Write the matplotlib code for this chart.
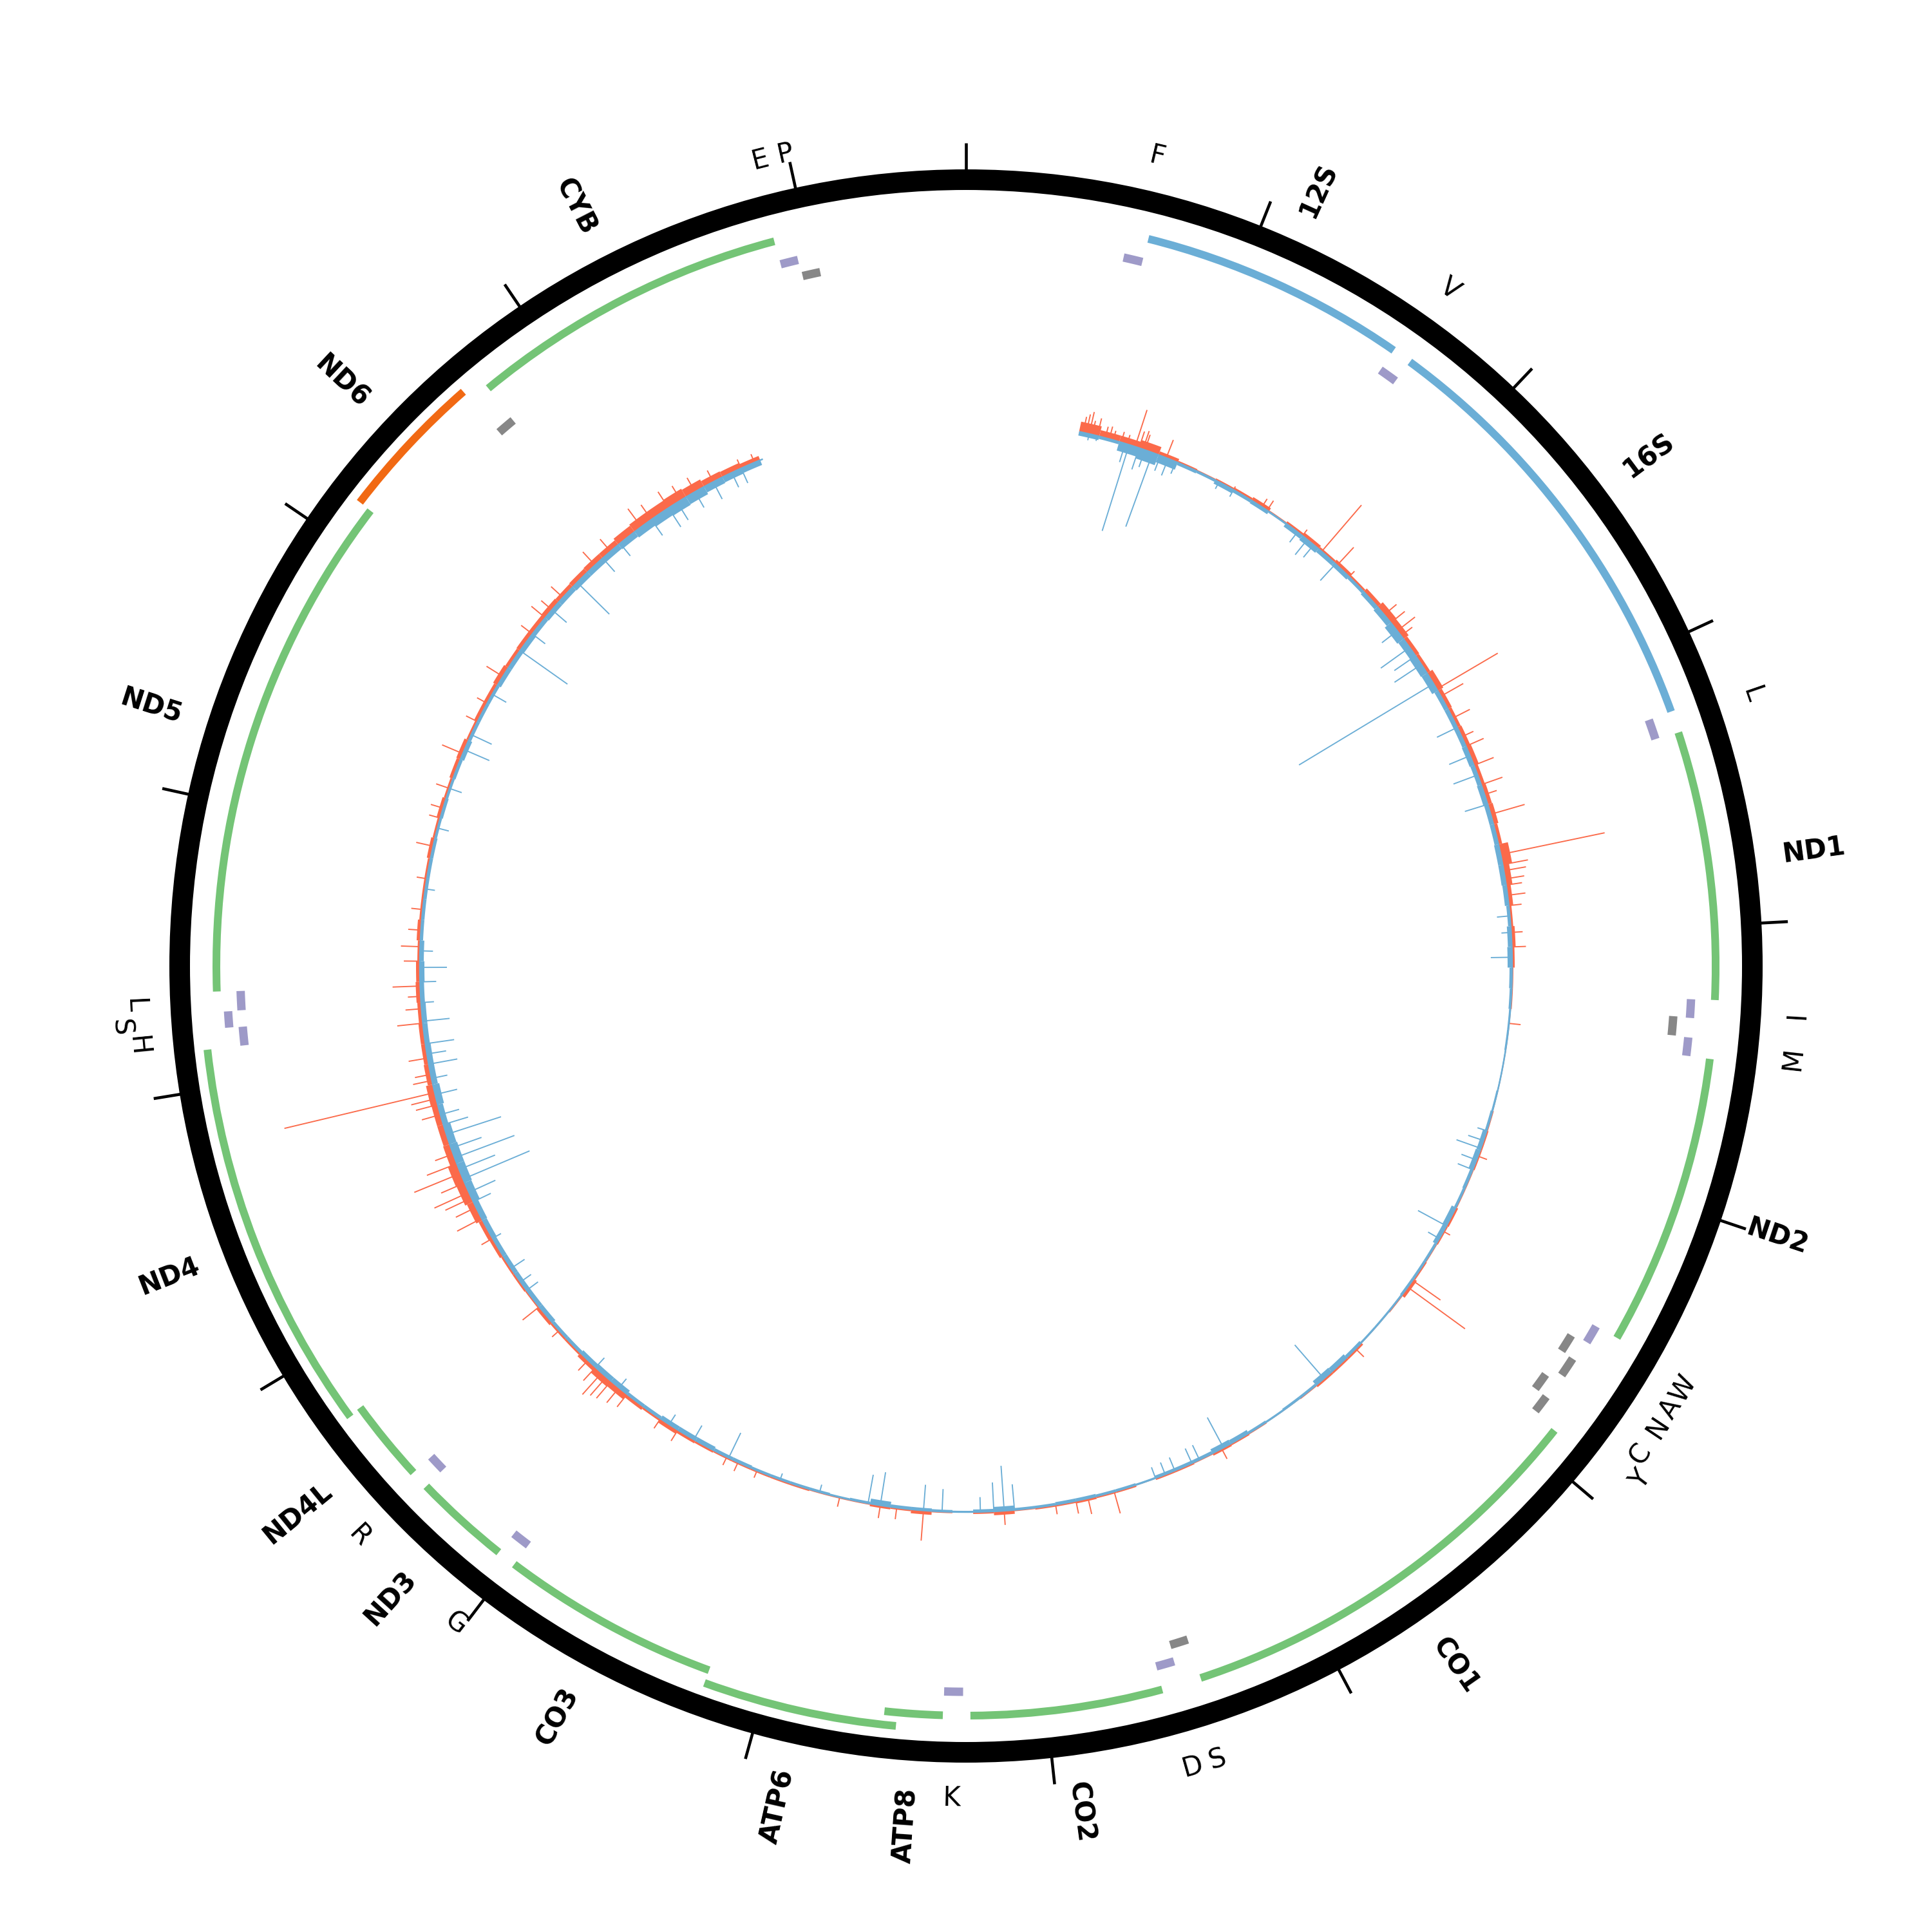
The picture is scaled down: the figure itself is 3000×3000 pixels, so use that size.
import numpy as np
import matplotlib.pyplot as plt

GENOME = 16569

# protein coding genes (heavy strand) + ND6 (light strand)
pc_names = ['ND1', 'ND2', 'CO1', 'CO2', 'ATP8', 'ATP6', 'CO3', 'ND3', 'ND4L', 'ND4', 'ND5', 'ND6', 'CYB']
pc_start = [3307, 4470, 5904, 7586, 8366, 8527, 9207, 10059, 10470, 10760, 12337, 14149, 14747]
pc_end = [4262, 5511, 7445, 8269, 8572, 9207, 9990, 10404, 10766, 12137, 14148, 14673, 15887]
pc_strand = ['+', '+', '+', '+', '+', '+', '+', '+', '+', '+', '+', '-', '+']

# rRNAs
rrna_names = ['12S', '16S']
rrna_start = [648, 1671]
rrna_end = [1601, 3229]

# tRNAs, heavy strand
trna_h_names = ['F', 'V', 'L1', 'I', 'M', 'W', 'D', 'K', 'G', 'R', 'H', 'S2', 'L2', 'T']
trna_h_start = [577, 1602, 3230, 4263, 4402, 5512, 7518, 8295, 9991, 10405, 12138, 12207, 12266, 15888]
trna_h_end = [647, 1670, 3304, 4331, 4469, 5579, 7585, 8364, 10058, 10469, 12206, 12265, 12336, 15953]

# tRNAs, light strand
trna_l_names = ['Q', 'A', 'N', 'C', 'Y', 'S1', 'E', 'P']
trna_l_start = [4329, 5587, 5657, 5761, 5826, 7446, 14674, 15956]
trna_l_end = [4400, 5655, 5729, 5826, 5891, 7514, 14742, 16023]

# tRNA labels as printed on the chart
trna_label_text = ['F', 'V', 'L', 'I', 'M', 'W', 'A', 'N', 'C', 'Y', 'S', 'D', 'K',
                   'G', 'R', 'H', 'S', 'L', 'E', 'P']
trna_label_pos = [612, 1636, 3267, 4297, 4436, 5546, 5621, 5693, 5794, 5859, 7475, 7557, 8330,
                  10025, 10437, 12172, 12236, 12301, 15911, 15992]

# coverage track: 100 bp bins (centres) with typical forward / reverse signal
cov_pos = list(range(600, 15600, 100))
cov_fwd = [16, 10, 10, 13, 6, 3, 2, 3, 4, 6, 2, 4, 6, 4, 6, 4, 7, 11, 10, 7,
           6, 10, 7, 6, 7, 8, 6, 7, 8, 6, 15, 10, 7, 4, 6, 4, 2, 2, 1, 1,
           1, 1, 1, 2, 3, 3, 2, 2, 4, 3, 2, 3, 6, 2, 1, 1, 4, 4, 4, 2,
           1, 1, 2, 3, 4, 2, 3, 3, 1, 3, 3, 4, 3, 3, 2, 6, 3, 1, 2, 6,
           3, 4, 2, 2, 2, 3, 3, 3, 3, 3, 4, 5, 7, 4, 6, 10, 11, 7, 4, 4,
           6, 3, 4, 4, 6, 7, 11, 14, 15, 11, 10, 10, 11, 8, 7, 7, 6, 7, 6, 4,
           6, 4, 4, 4, 6, 4, 6, 4, 6, 7, 4, 6, 6, 8, 6, 7, 7, 8, 7, 8,
           9, 9, 12, 14, 14, 15, 13, 10, 9, 7]
cov_rev = [6, 4, 14, 17, 12, 4, 3, 6, 4, 5, 2, 6, 8, 6, 6, 4, 6, 8, 12, 10,
           11, 10, 6, 6, 6, 7, 6, 7, 6, 6, 7, 7, 6, 4, 6, 7, 4, 3, 2, 2,
           1, 1, 2, 3, 6, 7, 4, 3, 7, 6, 3, 3, 3, 2, 2, 2, 4, 7, 8, 3,
           3, 2, 3, 6, 7, 4, 4, 4, 2, 3, 3, 4, 4, 3, 3, 7, 4, 2, 3, 4,
           4, 8, 3, 2, 3, 3, 3, 3, 4, 4, 6, 6, 6, 4, 4, 7, 7, 6, 4, 4,
           6, 6, 6, 6, 6, 7, 8, 11, 12, 12, 11, 8, 10, 8, 8, 7, 7, 6, 7, 6,
           4, 4, 4, 4, 4, 3, 4, 3, 4, 6, 4, 4, 4, 6, 6, 7, 6, 7, 7, 8,
           8, 8, 9, 11, 13, 14, 13, 10, 9, 8]

# isolated peaks (forward strand, outwards)
peak_fwd_pos = [570, 585, 600, 615, 640, 680, 700, 720, 760, 790, 830, 850, 870, 880, 930, 990,
                1350, 1510, 1540, 1750, 1870, 1970, 2050, 2300, 2350, 2400, 2430, 2740, 2780,
                2900, 3000, 3050, 3150, 3250, 3300, 3400, 3600, 3650, 3680, 3720, 3750, 3800,
                3850, 3980, 4050, 4420, 5080, 5480, 5760, 5800, 6190, 7000, 7560, 7690, 7750,
                7850, 8100, 8490, 8620, 8700, 8900, 9320, 9420, 9480, 9750, 9850, 10050, 10100,
                10150, 10180, 10210, 10250, 10300, 10500, 10650, 11050, 11160, 11220, 11270,
                11300, 11350, 11400, 11450, 11500, 11700, 11750, 11780, 11810, 11870, 11900,
                11980, 12150, 12220, 12280, 12330, 12450, 12520, 12600, 12700, 12850, 13010,
                13150, 13200, 13300, 13480, 13650, 13750, 13900, 14150, 14250, 14300, 14380,
                14600, 14700, 14890, 14950, 15050, 15120, 15200, 15300, 15450, 15520]
peak_fwd_val = [25, 30, 35, 22, 28, 18, 20, 15, 17, 15, 60, 27, 30, 25, 12, 30,
                6, 15, 18, 12, 95, 38, 12, 25, 28, 35, 22, 110, 40,
                30, 20, 30, 33, 35, 20, 55, 165, 40, 35, 30, 25, 28,
                20, 18, 22, 18, 15, 12, 53, 110, 18, 18, 35, 25, 20,
                15, 22, 47, 18, 20, 15, 12, 15, 14, 20, 18, 25, 30,
                35, 38, 45, 28, 22, 15, 33, 20, 43, 35, 45,
                59, 40, 78, 50, 30, 30, 35, 40, 240, 30, 25,
                30, 40, 25, 20, 43, 25, 30, 20, 18, 16, 27,
                18, 20, 22, 35, 20, 18, 30, 22, 28, 22, 25,
                28, 25, 35, 28, 30, 26, 25, 20, 15, 14]
# isolated peaks (reverse strand, inwards)
peak_rev_pos = [600, 640, 780, 800, 850, 880, 920, 960, 1000, 1040, 1270, 1350, 1720, 1780, 1820,
                1960, 2400, 2500, 2550, 2600, 2710, 2950, 3100, 3200, 3350, 3900, 3980, 4100,
                4950, 5000, 5040, 5100, 5150, 5450, 5520, 6400, 6990, 7120, 7160, 7250, 7300,
                7350, 8050, 8100, 8150, 8215, 8400, 8490, 8700, 8760, 9000, 9200, 9470, 9660,
                9800, 10100, 10250, 10750, 10800, 10880, 11050, 11250, 11300, 11370, 11420,
                11480, 11530, 11600, 11650, 11700, 11800, 11880, 11950, 12000, 12050, 12160,
                12250, 12350, 12420, 12500, 12800, 13100, 13300, 13500, 13580, 13800, 14050,
                14150, 14300, 14480, 14650, 14760, 14950, 15050, 15100, 15200, 15300, 15400,
                15450]
peak_rev_val = [10, 8, 30, 140, 35, 28, 122, 25, 28, 20, 12, 12, 20, 30, 25,
                35, 30, 55, 40, 50, 244, 35, 35, 40, 37, 20, 15, 33,
                15, 25, 40, 25, 25, 50, 20, 69, 53, 25, 25, 22, 20,
                18, 40, 70, 45, 23, 35, 40, 52, 45, 12, 10, 43, 25,
                18, 18, 20, 22, 20, 25, 15, 30, 45, 112, 60,
                99, 50, 89, 40, 30, 35, 25, 45, 30, 45, 42,
                20, 25, 42, 20, 15, 18, 20, 42, 35, 25, 90,
                25, 30, 70, 28, 25, 30, 35, 32, 28, 30, 25,
                25]

GREEN = '#74c476'
ORANGE = '#f16913'
RRNA_BLUE = '#6baed6'
PURPLE = '#9e9ac8'
GREY = '#878787'
COV_RED = '#fb6a4a'
COV_BLUE = '#6baed6'

# radii in pixel-like units (axes radius = 1500)
RING_IN, RING_OUT = 1205, 1237
TICK_OUT = 1278
GENE_R, GENE_W = 1164, 12
TRNA_H_R, TRNA_L_R, TRNA_W = 1127, 1101, 13
LEVEL_STEP = 21
BASE_R = 848
GENE_LABEL_R = 1279
TRNA_LABEL_R = 1292
LABEL_STEP = 24


def ang(bp):
    return np.asarray(bp, dtype=float) / GENOME * 2 * np.pi


def assign_levels(starts, ends, pad=10):
    order = np.argsort(starts)
    last_end = []
    levels = [0] * len(starts)
    for i in order:
        for lv, e in enumerate(last_end):
            if starts[i] > e + pad:
                levels[i] = lv
                last_end[lv] = ends[i]
                break
        else:
            levels[i] = len(last_end)
            last_end.append(ends[i])
    return levels


def draw_blocks(ax, starts, ends, radius, width, colors, levels):
    th0 = ang(starts)
    th1 = ang(ends)
    r = radius + np.array(levels) * LEVEL_STEP
    ax.bar((th0 + th1) / 2, width, width=th1 - th0, bottom=r - width / 2,
           color=colors, linewidth=0, align='center')


fig = plt.figure(figsize=(10, 10), dpi=300)
ax = fig.add_axes([0, 0, 1, 1], projection='polar')
ax.set_theta_zero_location('N')
ax.set_theta_direction(-1)
ax.set_ylim(0, 1500)
ax.axis('off')

# outer ring and ticks
ax.bar(0, RING_OUT - RING_IN, width=2 * np.pi, bottom=RING_IN, color='black', linewidth=0)
tick_bp = np.arange(0, GENOME, 1000)
ax.vlines(ang(tick_bp), RING_OUT - 2, TICK_OUT, color='black', lw=1.1)

# genes
gene_starts = pc_start + rrna_start
gene_ends = pc_end + rrna_end
gene_cols = [GREEN if s == '+' else ORANGE for s in pc_strand] + [RRNA_BLUE] * len(rrna_start)
draw_blocks(ax, gene_starts, gene_ends, GENE_R, GENE_W, gene_cols,
            assign_levels(gene_starts, gene_ends))
draw_blocks(ax, trna_h_start, trna_h_end, TRNA_H_R, TRNA_W, PURPLE,
            assign_levels(trna_h_start, trna_h_end))
draw_blocks(ax, trna_l_start, trna_l_end, TRNA_L_R, TRNA_W, GREY,
            assign_levels(trna_l_start, trna_l_end))

# gene labels, radial
label_names = pc_names + rrna_names
label_mid = [(s + e) / 2 for s, e in zip(gene_starts, gene_ends)]
for name, mid in zip(label_names, label_mid):
    deg = mid / GENOME * 360
    if deg < 180:
        rot, ha = 90 - deg, 'left'
    else:
        rot, ha = 270 - deg, 'right'
    ax.text(ang(mid), GENE_LABEL_R, name, rotation=rot, rotation_mode='anchor',
            ha=ha, va='center', fontsize=10, fontweight='bold', color='black')

# tRNA labels, tangential; crowded neighbours are pushed outwards
lab_levels = assign_levels(trna_label_pos, trna_label_pos, pad=67)
for name, pos, lv in zip(trna_label_text, trna_label_pos, lab_levels):
    deg = pos / GENOME * 360
    rot = -deg
    while rot <= -90:
        rot += 180
    while rot > 90:
        rot -= 180
    ax.text(ang(pos), TRNA_LABEL_R + lv * LABEL_STEP, name, rotation=rot,
            rotation_mode='anchor', ha='center', va='center', fontsize=10, color='black')

# coverage track
cp = ang(cov_pos)
bw = ang(100)
fwd = np.array(cov_fwd, dtype=float)
rev = np.array(cov_rev, dtype=float)
ax.bar(cp, fwd, width=bw, bottom=BASE_R, color=COV_RED, linewidth=0)
ax.bar(cp, rev, width=bw, bottom=BASE_R - rev, color=COV_BLUE, linewidth=0)
ax.vlines(ang(peak_fwd_pos), BASE_R, BASE_R + np.array(peak_fwd_val), color=COV_RED, lw=0.45)
ax.vlines(ang(peak_rev_pos), BASE_R - np.array(peak_rev_val), BASE_R, color=COV_BLUE, lw=0.45)
arc = np.linspace(ang(cov_pos[0] - 45), ang(cov_pos[-1] + 60), 600)
ax.plot(arc, np.full_like(arc, BASE_R), color=COV_BLUE, lw=0.6)

fig.savefig('out.png', dpi=300, facecolor='white')
